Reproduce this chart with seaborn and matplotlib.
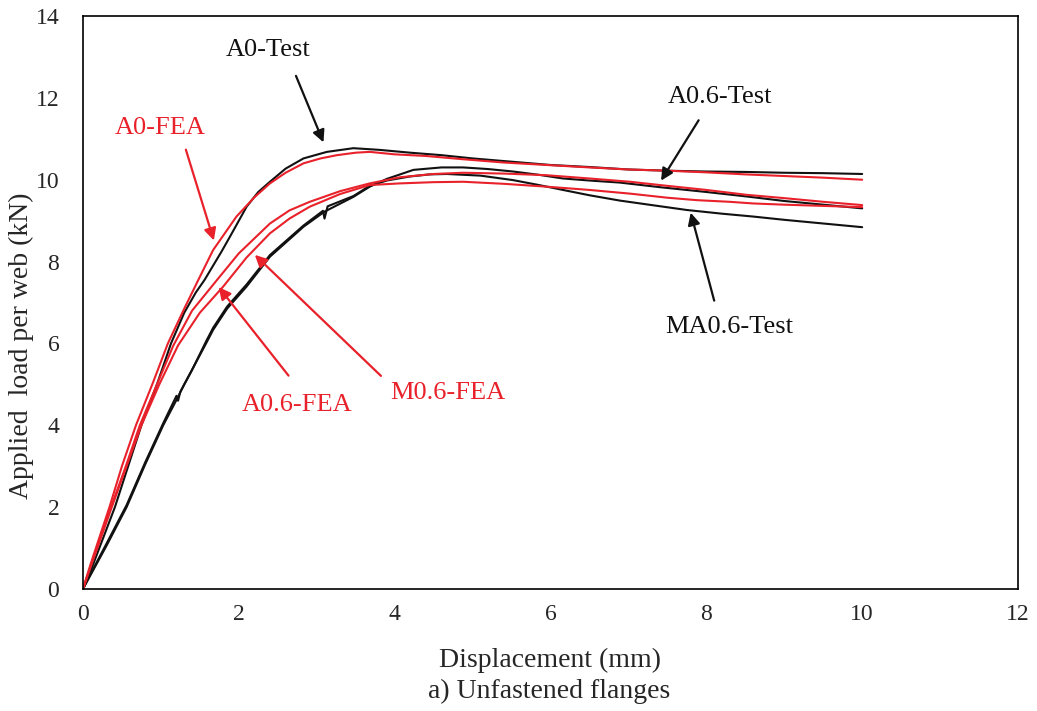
import matplotlib
matplotlib.use('Agg')
import matplotlib.pyplot as plt
import seaborn as sns
import pandas as pd

# load-displacement curves
a0_test_x = [0, 0.1, 0.2, 0.41, 0.58, 0.75, 0.95, 1.13, 1.3, 1.45, 1.56, 1.67, 1.78, 1.89, 2.1, 2.25, 2.4, 2.6, 2.83,
             3.13, 3.47, 3.8, 4.2, 4.6, 5.0, 5.5, 6.0, 6.5, 7.0, 7.5, 8.0, 8.5, 9.0, 9.5, 10.0]
a0_test_y = [0, 0.45, 0.95, 2.0, 3.0, 4.0, 5.0, 6.0, 6.75, 7.25, 7.55, 7.9, 8.25, 8.62, 9.34, 9.7, 9.95, 10.27, 10.52,
             10.68, 10.77, 10.73, 10.66, 10.6, 10.52, 10.44, 10.36, 10.31, 10.25, 10.22, 10.2, 10.19, 10.17, 10.16, 10.14]

a0_fea_x = [0, 0.1, 0.34, 0.5, 0.68, 0.9, 1.09, 1.3, 1.48, 1.67, 1.97, 2.2, 2.4, 2.6, 2.83, 3.05, 3.26, 3.5, 3.68, 4.0,
            4.4, 4.88, 5.4, 5.95, 6.5, 7.0, 7.5, 8.0, 8.5, 9.0, 9.5, 10.0]
a0_fea_y = [0, 0.62, 2.0, 3.0, 4.0, 5.05, 6.0, 6.85, 7.55, 8.28, 9.1, 9.57, 9.91, 10.17, 10.4, 10.52, 10.6, 10.66, 10.68, 10.62,
            10.58, 10.5, 10.42, 10.36, 10.3, 10.25, 10.22, 10.18, 10.13, 10.09, 10.05, 10.0]

a06_fea_x = [0, 0.1, 0.36, 0.55, 0.73, 0.95, 1.16, 1.4, 1.72, 2.0, 2.4, 2.65, 2.91, 3.3, 3.68, 4.07, 4.5, 4.88, 5.4, 5.95,
             6.5, 7.02, 7.5, 8.0, 8.52, 9.0, 9.5, 10.0]
a06_fea_y = [0, 0.57, 2.0, 3.0, 4.0, 5.0, 5.95, 6.8, 7.55, 8.2, 8.93, 9.25, 9.46, 9.72, 9.91, 10.06, 10.14, 10.17, 10.15, 10.11,
             10.03, 9.95, 9.85, 9.75, 9.63, 9.55, 9.46, 9.38]

m06_fea_x = [0, 0.1, 0.37, 0.56, 0.75, 0.98, 1.22, 1.5, 1.8, 2.1, 2.4, 2.65, 2.91, 3.3, 3.68, 4.07, 4.5, 4.88, 5.4, 5.95,
             6.5, 7.02, 7.5, 7.88, 8.3, 8.6, 9.0, 9.5, 10.0]
m06_fea_y = [0, 0.55, 2.0, 3.0, 4.0, 5.0, 5.95, 6.75, 7.39, 8.1, 8.69, 9.05, 9.34, 9.65, 9.87, 9.91, 9.94, 9.95, 9.9, 9.83,
             9.75, 9.66, 9.56, 9.5, 9.46, 9.42, 9.39, 9.36, 9.33]

a06_test_x = [0, 0.1, 0.3, 0.56, 0.8, 1.03, 1.2, 1.3, 1.58, 1.67, 1.85, 2.1, 2.4, 2.83, 3.1, 3.47, 3.68, 3.9, 4.24, 4.6,
              4.88, 5.2, 5.52, 5.85, 6.16, 6.5, 6.89, 7.44, 8.0, 8.52, 9.0, 9.5, 10.0]
a06_test_y = [0, 0.35, 1.05, 2.0, 3.05, 4.0, 4.62, 5.0, 6.0, 6.33, 6.85, 7.39, 8.12, 8.85, 9.22, 9.58, 9.83, 10.02, 10.24, 10.3,
              10.3, 10.26, 10.2, 10.12, 10.03, 9.98, 9.93, 9.81, 9.7, 9.59, 9.48, 9.39, 9.3]

ma06_test_x = [0, 0.1, 0.3, 0.56, 0.8, 1.03, 1.2, 1.22, 1.25, 1.4, 1.58, 1.67, 1.85, 2.1, 2.4, 2.83, 3.08, 3.1, 3.14,
               3.47, 3.68, 3.9, 4.2, 4.45, 4.67, 5.1, 5.52, 5.85, 6.16, 6.5, 6.89, 7.3, 7.75, 8.2, 8.6, 9.0, 9.5, 10.0]
ma06_test_y = [0, 0.38, 1.1, 2.05, 3.1, 4.05, 4.72, 4.6, 4.82, 5.35, 6.05, 6.38, 6.9, 7.44, 8.16, 8.88, 9.24, 9.05, 9.35,
               9.6, 9.85, 9.98, 10.08, 10.13, 10.14, 10.1, 9.99, 9.87, 9.75, 9.62, 9.49, 9.38, 9.26, 9.17, 9.1, 9.02, 8.93, 8.84]

x_ticks = [0, 2, 4, 6, 8, 10, 12]
y_ticks = [0, 2, 4, 6, 8, 10, 12, 14]

red = '#e8212b'
black = '#111111'

sns.set_style('white')
plt.rcParams['font.family'] = ['Liberation Serif', 'DejaVu Serif']

fig = plt.figure(figsize=(10.37, 7.11), dpi=100)
ax = fig.add_axes([0.080, 0.1716, 0.9017, 0.8059])

curves = [
    (a0_test_x, a0_test_y, black),
    (a06_test_x, a06_test_y, black),
    (ma06_test_x, ma06_test_y, black),
    (a0_fea_x, a0_fea_y, red),
    (a06_fea_x, a06_fea_y, red),
    (m06_fea_x, m06_fea_y, red),
]
for xs, ys, c in curves:
    df = pd.DataFrame({'disp': xs, 'load': ys})
    sns.lineplot(data=df, x='disp', y='load', color=c, lw=1.5, sort=False,
                 estimator=None, ax=ax)

ax.set_xlim(0, 12)
ax.set_ylim(0, 14)
ax.set_xticks(x_ticks)
ax.set_yticks(y_ticks)
ax.tick_params(direction='in', length=7, width=1.2, labelsize=17)
ax.tick_params(axis='y', pad=17)
ax.tick_params(axis='x', pad=11)
for s in ax.spines.values():
    s.set_linewidth(1.2)
    s.set_color('black')

ax.set_xlabel('')
ax.set_ylabel('Applied  load per web (kN)', fontsize=20, va='center')
ax.yaxis.set_label_coords(-0.066, 0.424)
fig.text(0.530, 0.071, 'Displacement (mm)', fontsize=20, ha='center', va='center')
fig.text(0.530, 0.027, 'a) Unfastened flanges', fontsize=20, ha='center', va='center')

# labels with arrows
notes = [
    ('A0-Test', (2.37, 13.17), (2.72, 12.6), (3.1, 10.85), black),
    ('A0-FEA', (0.99, 11.26), (1.31, 10.8), (1.69, 8.45), red),
    ('A0.6-Test', (8.17, 12.02), (7.92, 11.51), (7.40, 9.92), black),
    ('MA0.6-Test', (8.30, 6.40), (8.11, 6.98), (7.79, 9.26), black),
    ('A0.6-FEA', (2.75, 4.50), (2.66, 5.16), (1.72, 7.43), red),
    ('M0.6-FEA', (4.68, 4.79), (3.85, 5.16), (2.18, 8.21), red),
]
for txt, tpos, start, tip, c in notes:
    ax.text(tpos[0], tpos[1], txt, color=c, fontsize=19, ha='center', va='center')
    ax.annotate('', xy=tip, xytext=start,
                arrowprops=dict(arrowstyle='-|>', color=c, lw=1.6, mutation_scale=18))

fig.savefig('out.png', dpi=100)
